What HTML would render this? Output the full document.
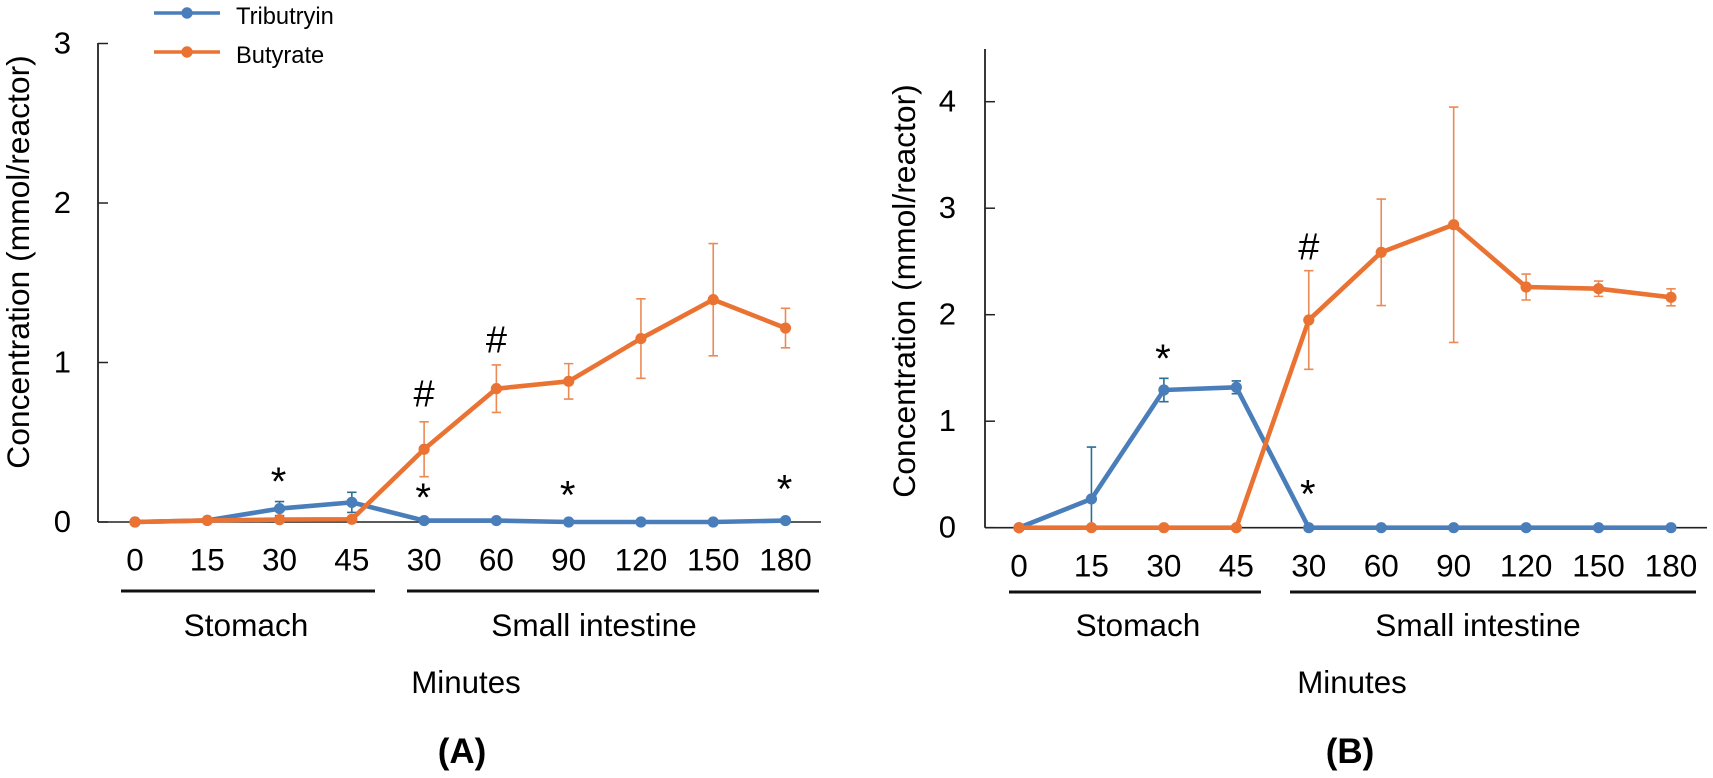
<!DOCTYPE html>
<html lang="en">
<head>
<meta charset="utf-8">
<title>Tributyrin and butyrate concentration</title>
<style>
  html, body { margin: 0; padding: 0; background: #fff; }
  body { width: 1713px; height: 778px; overflow: hidden; }
  svg { display: block; }
  text { font-family: "Liberation Sans", Arial, sans-serif; fill: #000; }
</style>
</head>
<body>
<svg id="figure" width="1713" height="778" viewBox="0 0 1713 778" xmlns="http://www.w3.org/2000/svg">
  <g id="legend">
    <g>
      <line x1="154" y1="13" x2="220" y2="13" stroke="#4a7ebb" stroke-width="3.5"/>
      <circle cx="187" cy="13" r="5.7" fill="#4a7ebb"/>
      <text x="236" y="24" font-size="23.7">Tributryin</text>
    </g>
    <g>
      <line x1="154" y1="52" x2="220" y2="52" stroke="#ea7333" stroke-width="3.5"/>
      <circle cx="187" cy="52" r="5.7" fill="#ea7333"/>
      <text x="236" y="63" font-size="23.7">Butyrate</text>
    </g>
  </g>

  <text transform="translate(29 262) rotate(-90)" text-anchor="middle" font-size="31.8">Concentration (mmol/reactor)</text>
  <text transform="translate(915 291) rotate(-90)" text-anchor="middle" font-size="31.8">Concentration (mmol/reactor)</text>

  <line x1="121" y1="591" x2="375" y2="591" stroke="#111" stroke-width="3"/>
  <line x1="407" y1="591" x2="819" y2="591" stroke="#111" stroke-width="3"/>
  <line x1="1009" y1="592" x2="1261" y2="592" stroke="#111" stroke-width="3"/>
  <line x1="1290" y1="592" x2="1696" y2="592" stroke="#111" stroke-width="3"/>

  <text x="246" y="636" text-anchor="middle" font-size="31.6">Stomach</text>
  <text x="594" y="636" text-anchor="middle" font-size="31.6">Small intestine</text>
  <text x="1138" y="636" text-anchor="middle" font-size="31.6">Stomach</text>
  <text x="1478" y="636" text-anchor="middle" font-size="31.6">Small intestine</text>

  <text x="466" y="693" text-anchor="middle" font-size="31.3">Minutes</text>
  <text x="1352" y="693" text-anchor="middle" font-size="31.3">Minutes</text>

  <text x="462" y="763" text-anchor="middle" font-size="35" font-weight="bold">(A)</text>
  <text x="1350" y="763" text-anchor="middle" font-size="35" font-weight="bold">(B)</text>
</svg>

<script>
// Shared category labels
const categories = ['0', '15', '30', '45', '30', '60', '90', '120', '150', '180'];

// Panel A values (mmol/reactor)
const tributyrinA = [0, 0.01, 0.084, 0.123, 0.009, 0.009, 0, 0, 0, 0.009];
const tributyrinErrA = [0, 0, 0.044, 0.063, 0, 0, 0, 0, 0, 0];
const butyrateA = [0, 0.01, 0.015, 0.017, 0.456, 0.836, 0.882, 1.15, 1.394, 1.216];
const butyrateErrA = [0, 0, 0, 0, 0.172, 0.149, 0.111, 0.249, 0.352, 0.124];
const yTicksA = [0, 1, 2, 3];
const starCategoriesA = [2, 4, 6, 9];
const starLevelsA = [0.282, 0.182, 0.199, 0.236];
const hashCategoriesA = [4, 5];
const hashLevelsA = [0.805, 1.145];

// Panel B values (mmol/reactor)
const tributyrinB = [0, 0.27, 1.293, 1.318, 0, 0, 0, 0, 0, 0];
const tributyrinErrB = [0, 0.487, 0.11, 0.06, 0, 0, 0, 0, 0, 0];
const butyrateB = [0, 0, 0, 0, 1.95, 2.586, 2.845, 2.26, 2.244, 2.163];
const butyrateErrB = [0, 0, 0, 0, 0.463, 0.5, 1.105, 0.122, 0.072, 0.08];
const yTicksB = [0, 1, 2, 3, 4];
const starCategoriesB = [2, 4];
const starLevelsB = [1.63, 0.36];
const hashCategoriesB = [4];
const hashLevelsB = [2.64];

const NS = 'http://www.w3.org/2000/svg';
const svg = document.getElementById('figure');
const BLUE = '#4a7ebb';
const ORANGE = '#ea7333';
const BLUE_ERR = '#2a6f97';
const ORANGE_ERR = '#ec8a55';

function make(tag, attrs, parent, text) {
  const el = document.createElementNS(NS, tag);
  for (const k in attrs) el.setAttribute(k, attrs[k]);
  if (text !== undefined) el.textContent = text;
  parent.appendChild(el);
  return el;
}

function drawPanel(id, geo, tribu, tribuErr, buty, butyErr, yTicks, starCats, starLevels, hashCats, hashLevels) {
  const xScale = function (i) { return geo.x0 + i * (geo.x9 - geo.x0) / (categories.length - 1); };
  const yScale = function (v) { return geo.y0 - v * geo.unit; };

  const g = make('g', {}, svg);
  
  

  const yAxis = make('line', { x1: geo.axisX, y1: geo.axisTop, x2: geo.axisX, y2: geo.y0, stroke: '#222', 'stroke-width': 1.8 }, g);
  
  

  const xAxis = make('line', { x1: geo.axisX, y1: geo.y0, x2: geo.axisRight, y2: geo.y0, stroke: '#222', 'stroke-width': 1.6 }, g);
  
  

  yTicks.forEach(function (t) {
    const tick = make('line', { x1: geo.axisX, y1: yScale(t), x2: geo.axisX + 10, y2: yScale(t), stroke: '#222', 'stroke-width': 1.5 }, g);
    
    
    const lab = make('text', { x: geo.labelX, y: yScale(t) + 10, 'text-anchor': 'end', 'font-size': 31 }, g, String(t));
    
    
  });

  categories.forEach(function (c, i) {
    const lab = make('text', { x: xScale(i), y: geo.tickBase, 'text-anchor': 'middle', 'font-size': 31.5 }, g, c);
    
    
  });

  function series(name, values, errs, color, errColor, r) {
    const sg = make('g', {}, g);
    
    

    values.forEach(function (v, i) {
      if (!errs[i]) return;
      const x = xScale(i);
      const top = yScale(v + errs[i]);
      const bottom = yScale(Math.max(v - errs[i], 0));
      const eb = make('path', {
        d: 'M' + x + ' ' + top + 'V' + bottom + 'M' + (x - 4.7) + ' ' + top + 'H' + (x + 4.7) + 'M' + (x - 4.7) + ' ' + bottom + 'H' + (x + 4.7),
        fill: 'none', stroke: errColor, 'stroke-width': 1.6
      }, sg);
      
      
    });

    const pts = values.map(function (v, i) { return xScale(i) + ',' + yScale(v); }).join(' ');
    const line = make('polyline', { points: pts, fill: 'none', stroke: color, 'stroke-width': 4.6, 'stroke-linejoin': 'round' }, sg);
    
    

    values.forEach(function (v, i) {
      const dot = make('circle', { cx: xScale(i), cy: yScale(v), r: r, fill: color }, sg);
      
      
    });
  }

  series('tributyrin', tribu, tribuErr, BLUE, BLUE_ERR, 5.6);
  series('butyrate', buty, butyErr, ORANGE, ORANGE_ERR, 5.6);

  starCats.forEach(function (c, i) {
    const s = make('text', { x: xScale(c) - 1, y: yScale(starLevels[i]) + 18, 'text-anchor': 'middle', 'font-size': 40 }, g, '*');
    
    
  });

  hashCats.forEach(function (c, i) {
    const h = make('text', { x: xScale(c), y: yScale(hashLevels[i]) + 13, 'text-anchor': 'middle', 'font-size': 38 }, g, '#');
    
    
  });
}

drawPanel('a',
  { x0: 135, x9: 785.5, y0: 522, unit: 159.5, axisX: 98, axisTop: 43, axisRight: 821, labelX: 71, tickBase: 570.5 },
  tributyrinA, tributyrinErrA, butyrateA, butyrateErrA, yTicksA, starCategoriesA, starLevelsA, hashCategoriesA, hashLevelsA);

drawPanel('b',
  { x0: 1019, x9: 1671, y0: 527.7, unit: 106.5, axisX: 985, axisTop: 49, axisRight: 1707, labelX: 956, tickBase: 576.5 },
  tributyrinB, tributyrinErrB, butyrateB, butyrateErrB, yTicksB, starCategoriesB, starLevelsB, hashCategoriesB, hashLevelsB);
</script>
</body>
</html>
